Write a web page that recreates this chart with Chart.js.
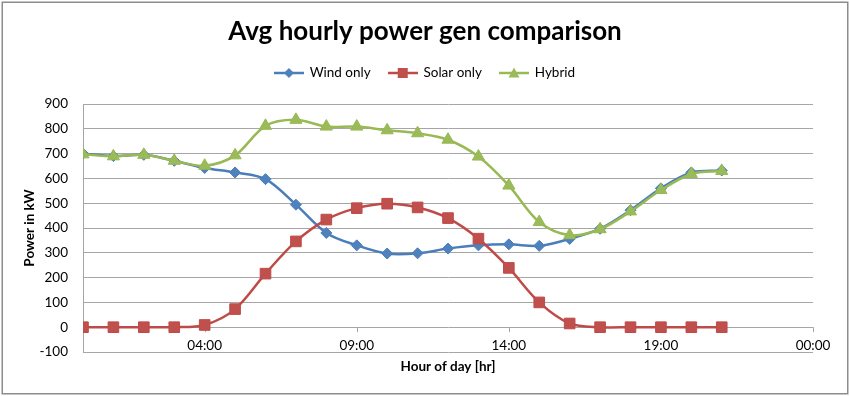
<!DOCTYPE html>
<html>
<head>
<meta charset="utf-8">
<script src="https://cdn.jsdelivr.net/npm/chart.js@4/dist/chart.umd.min.js"></script>
<style>
html, body { margin: 0; padding: 0; background: #fff; }
#wrap { width: 850px; height: 396px; position: relative; }
</style>
</head>
<body>
<div id="wrap"><canvas id="c" width="850" height="396"></canvas></div>
<script>
// ---- data ----
const hours = [0, 1, 2, 3, 4, 5, 6, 7, 8, 9, 10, 11, 12, 13, 14, 15, 16, 17, 18, 19, 20, 21];
const windOnly = [700, 690, 695, 671, 642, 624, 597, 494, 380, 330, 297, 298, 317, 330, 334, 328, 356, 397, 472, 560, 624, 632];
const solarOnly = [0, 0, 0, 0, 9, 73, 216, 346, 434, 480, 498, 483, 440, 357, 239, 100, 15, 0, 0, 0, 0, 0];
const hybrid = [697, 689, 695, 671, 651, 693, 812, 836, 809, 809, 794, 782, 756, 688, 571, 424, 371, 395, 467, 553, 618, 630];
const xTickValues = [4, 9, 14, 19, 24];
const xTickLabels = ['04:00', '09:00', '14:00', '19:00', '00:00'];
const seriesNames = ['Wind only', 'Solar only', 'Hybrid'];
const chartTitle = 'Avg hourly power gen comparison';
const xTitle = 'Hour of day [hr]';
const yTitle = 'Power in kW';

const FONT = 'Lato, "Open Sans", sans-serif';
const colors = {
  wind: { line: '#4A7EBB', fill: '#4F81BD' },
  solar: { line: '#BE4B48', fill: '#C0504D' },
  hybrid: { line: '#98B954', fill: '#9BBB59' }
};
const GRID = '#A6A6A6';

function toPoints(vals) { return vals.map((v, i) => ({ x: hours[i], y: v })); }

function legendImg(c, shape) {
  const cv = document.createElement('canvas');
  cv.width = 30; cv.height = 14;
  const g = cv.getContext('2d');
  g.strokeStyle = c.line; g.lineWidth = 2.5;
  g.beginPath(); g.moveTo(0, 7); g.lineTo(30, 7); g.stroke();
  g.fillStyle = c.fill;
  g.beginPath();
  if (shape === 'diamond') {
    g.moveTo(15, 2); g.lineTo(20, 7); g.lineTo(15, 12); g.lineTo(10, 7);
  } else if (shape === 'square') {
    g.rect(10, 2, 10, 10);
  } else {
    g.moveTo(15, 1.5); g.lineTo(20.5, 11.5); g.lineTo(9.5, 11.5);
  }
  g.closePath(); g.fill();
  return cv;
}
const legendImgs = [legendImg(colors.wind, 'diamond'), legendImg(colors.solar, 'square'), legendImg(colors.hybrid, 'triangle')];

function spacer(position, size) {
  return {
    position: position, weight: 500, fullSize: false, width: 0, height: 0,
    options: { position: position, weight: 500, fullSize: false, stackWeight: 1 },
    update(maxWidth, maxHeight) {
      if (position === 'top' || position === 'bottom') { this.width = maxWidth; this.height = size; }
      else { this.width = size; this.height = maxHeight; }
    },
    isHorizontal() { return position === 'top' || position === 'bottom'; },
    getPadding() { return { left: 0, top: 0, right: 0, bottom: 0 }; },
    draw() {}
  };
}

const framePlugin = {
  id: 'frame',
  beforeInit(chart) {
    Chart.layouts.addBox(chart, spacer('top', 14.25));
    Chart.layouts.addBox(chart, spacer('right', 37));
  },
  beforeDraw(chart) {
    const ctx = chart.ctx;
    ctx.save();
    ctx.fillStyle = '#fff';
    ctx.fillRect(0, 0, chart.width, chart.height);
    ctx.restore();
  },
  beforeDatasetsDraw(chart) {
    const ctx = chart.ctx, xs = chart.scales.x, ys = chart.scales.y;
    const y0 = ys.getPixelForValue(0);
    ctx.save();
    ctx.strokeStyle = GRID; ctx.lineWidth = 1;
    ctx.beginPath();
    xTickValues.forEach(v => {
      const px = Math.round(xs.getPixelForValue(v)) + 0.5;
      ctx.moveTo(px, y0); ctx.lineTo(px, y0 + 5);
    });
    ctx.stroke();
    ctx.restore();
  },
  afterDraw(chart) {
    const ctx = chart.ctx;
    ctx.save();
    ctx.strokeStyle = '#8C8C8C'; ctx.lineWidth = 1.5;
    ctx.strokeRect(2.25, 2.25, chart.width - 4.5, chart.height - 4.5);
    ctx.restore();
  }
};

function ds(label, vals, c, style, radius, order) {
  return {
    label: label, data: toPoints(vals), order: order,
    borderColor: c.line, backgroundColor: c.fill,
    pointBackgroundColor: c.fill, pointBorderColor: c.line, pointBorderWidth: 1,
    pointStyle: style, pointRadius: radius, pointHoverRadius: radius,
    borderWidth: 2.5, tension: 0.33, fill: false
  };
}

new Chart(document.getElementById('c'), {
  type: 'line',
  data: {
    datasets: [
      ds(seriesNames[0], windOnly, colors.wind, 'rectRot', 5.5, 3),
      ds(seriesNames[1], solarOnly, colors.solar, 'rect', 7.5, 2),
      ds(seriesNames[2], hybrid, colors.hybrid, 'triangle', 7, 1)
    ]
  },
  options: {
    responsive: false,
    devicePixelRatio: 1,
    animation: false,
    layout: { padding: { left: 0, right: 0, top: 0, bottom: 0 } },
    plugins: {
      tooltip: { enabled: false },
      title: {
        display: true, text: chartTitle, color: '#000',
        font: { family: FONT, size: 26, weight: 'bold' },
        padding: { top: 16.4, bottom: 0.65 }
      },
      legend: {
        display: true, position: 'top',
        labels: {
          usePointStyle: true, pointStyleWidth: 28, padding: 18,
          color: '#000', font: { family: FONT, size: 13.5 },
          generateLabels(chart) {
            const items = Chart.defaults.plugins.legend.labels.generateLabels(chart);
            items.forEach(it => { it.pointStyle = legendImgs[it.datasetIndex]; });
            return items.sort((a, b) => a.datasetIndex - b.datasetIndex);
          }
        }
      }
    },
    scales: {
      x: {
        type: 'linear', min: 0, max: 24,
        grid: { display: false, drawTicks: false },
        border: { display: false },
        afterBuildTicks(s) { s.ticks = xTickValues.map(v => ({ value: v })); },
        afterFit(s) { s.height = 44; },
        ticks: {
          autoSkip: false, maxRotation: 0, mirror: true, padding: -2, color: '#000',
          font: { family: FONT, size: 13.5 },
          callback(v) { const i = xTickValues.indexOf(v); return i >= 0 ? xTickLabels[i] : ''; }
        },
        title: {
          display: true, text: xTitle, color: '#000',
          font: { family: FONT, size: 13.5, weight: 'bold' },
          padding: { top: 0, bottom: 21 }
        }
      },
      y: {
        min: -100, max: 900,
        afterFit(s) { s.width = 83; },
        grid: { color: GRID, lineWidth: 1, drawTicks: false },
        border: { display: true, color: GRID, width: 1 },
        ticks: { stepSize: 100, padding: 15, color: '#000', font: { family: FONT, size: 13.5 } },
        title: {
          display: true, text: yTitle, color: '#000',
          font: { family: FONT, size: 13.5, weight: 'bold' },
          padding: { top: 22, bottom: 0 }
        }
      }
    }
  },
  plugins: [framePlugin]
});
</script>
</body>
</html>
